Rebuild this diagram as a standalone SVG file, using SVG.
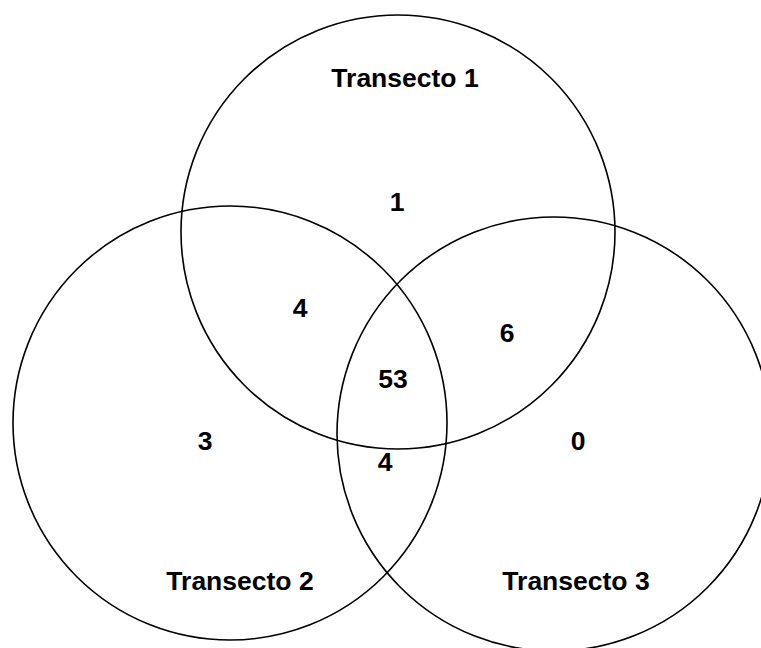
<svg xmlns="http://www.w3.org/2000/svg" width="761" height="648" viewBox="0 0 761 648">
<style>
.c{fill:none;stroke:#000;stroke-width:1.6}
.t{font-family:"Liberation Sans",Arial,sans-serif;font-weight:bold;font-size:26.5px;fill:#000;text-anchor:middle}
</style>
<rect width="761" height="648" fill="#fff"/>
<g id="transecto1"><circle class="c" cx="398" cy="232" r="217"/><text class="t" x="405" y="87">Transecto 1</text></g>
<g id="transecto2"><circle class="c" cx="230" cy="423" r="217"/><text class="t" x="240" y="590">Transecto 2</text></g>
<g id="transecto3"><circle class="c" cx="554" cy="434" r="217"/><text class="t" x="576" y="590">Transecto 3</text></g>
<g id="counts">
<text class="t" x="397" y="211">1</text>
<text class="t" x="300" y="317">4</text>
<text class="t" x="507" y="342">6</text>
<text class="t" x="393" y="388">53</text>
<text class="t" x="205" y="450">3</text>
<text class="t" x="578" y="450">0</text>
<text class="t" x="385" y="471">4</text>
</g>
</svg>
